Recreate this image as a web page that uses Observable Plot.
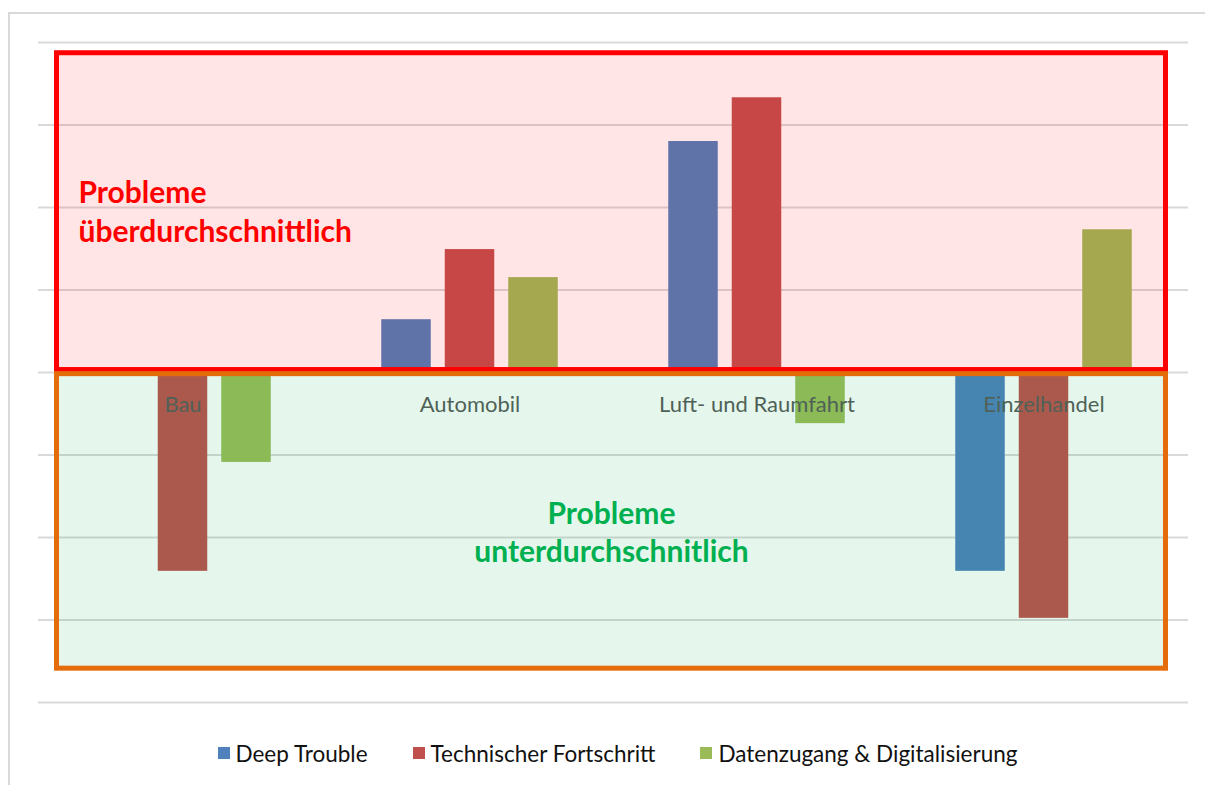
<!DOCTYPE html>
<html><head><meta charset="utf-8">
<script src="https://cdn.jsdelivr.net/npm/d3@7"></script>
<script src="https://cdn.jsdelivr.net/npm/@observablehq/plot@0.6"></script>
<style>
body{margin:0;background:#fff;font-family:Lato,"Open Sans",sans-serif;}
#wrap{position:relative;width:1205px;height:785px;overflow:hidden;}
#border{position:absolute;left:8px;top:12px;width:1230px;height:800px;border:2px solid #D9D9D9;}
#chart{position:absolute;left:0;top:0;}
#legend{position:absolute;left:0;top:736px;width:1205px;height:34px;display:flex;justify-content:center;align-items:center;gap:45px;font-size:22.5px;color:#111;padding-left:30px;box-sizing:border-box;}
.item{display:flex;align-items:center;}
.sw{width:12px;height:12px;margin-right:6px;display:inline-block;}
</style></head>
<body>
<div id="wrap"><div id="border"></div><div id="chart"></div><div id="legend"></div></div>
<script>
const categories = ["Bau", "Automobil", "Luft- und Raumfahrt", "Einzelhandel"];
const series = ["Deep Trouble", "Technischer Fortschritt", "Datenzugang & Digitalisierung"];
const deepTrouble = [null, 0.64, 2.80, -2.41];
const technischerFortschritt = [-2.41, 1.49, 3.33, -2.98];
const datenzugang = [-1.09, 1.15, -0.62, 1.73];
const gridTicks = [-4, -3, -2, -1, 0, 1, 2, 3, 4];
const seriesColors = ["#4F81BD", "#C0504D", "#9BBB59"];
const textAbove = ["Probleme", "überdurchschnittlich"];
const textBelow = ["Probleme", "unterdurchschnitlich"];

const seriesValues = [deepTrouble, technischerFortschritt, datenzugang];
const rows = [];
series.forEach((s, j) => categories.forEach((c, i) => {
  if (seriesValues[j][i] != null) rows.push({category: c, series: s, value: seriesValues[j][i]});
}));

const W = 1205, H = 725, ML = 38, MR = 17, MT = 42, MB = 23;
const bandW = (W - ML - MR) / categories.length;
const barW = 50, step = 63.5;
const inset = (bandW - barW) / 2;

function zones(index, scales, values, dim) {
  const g = d3.create("svg:g");
  const x1 = dim.marginLeft + 18.5, x2 = dim.width - dim.marginRight - 22.5;
  [[3.87, 0.03, "#FF0000", "#FF0000"], [-0.02, -3.59, "#00B050", "#E46C0A"]].forEach(([a, b, f, s]) => {
    g.append("rect").attr("x", x1).attr("y", scales.y(a)).attr("width", x2 - x1)
      .attr("height", scales.y(b) - scales.y(a)).attr("fill", f).attr("fill-opacity", 0.1)
      .attr("stroke", s).attr("stroke-width", 5);
  });
  return g.node();
}

const chart = Plot.plot({
  width: W, height: H,
  marginLeft: ML, marginRight: MR, marginTop: MT, marginBottom: MB,
  style: {background: "transparent", fontFamily: "Lato, 'Open Sans', sans-serif"},
  x: {domain: categories, padding: 0, axis: null},
  y: {domain: [-4, 4], axis: null},
  marks: [
    Plot.ruleY(gridTicks, {stroke: "#D9D9D9", strokeWidth: 2}),
    ...series.map((s, j) => Plot.barY(rows.filter(r => r.series === s), {
      x: "category", y: "value", fill: seriesColors[j], dx: (j - 1) * step,
      insetLeft: inset, insetRight: inset
    })),
    Plot.text(categories, {x: d => d, y: 0, dy: 32, fill: "#595959", fontSize: 22}),
    zones,
    Plot.text(textAbove, {frameAnchor: "left", y: (d, i) => 2.17 - 0.47 * i, dx: 40, textAnchor: "start",
      fill: "#FF0000", fontSize: 30, fontWeight: "bold"}),
    Plot.text(textBelow, {frameAnchor: "middle", y: (d, i) => -1.72 - 0.46 * i, dx: -2,
      fill: "#00B050", fontSize: 30, fontWeight: "bold"})
  ]
});
document.getElementById("chart").appendChild(chart);

const legend = document.getElementById("legend");
series.forEach((s, j) => {
  const it = document.createElement("div"); it.className = "item";
  const sw = document.createElement("span"); sw.className = "sw"; sw.style.background = seriesColors[j];
  const t = document.createElement("span"); t.textContent = s;
  it.appendChild(sw); it.appendChild(t); legend.appendChild(it);
});
</script>
</body></html>
